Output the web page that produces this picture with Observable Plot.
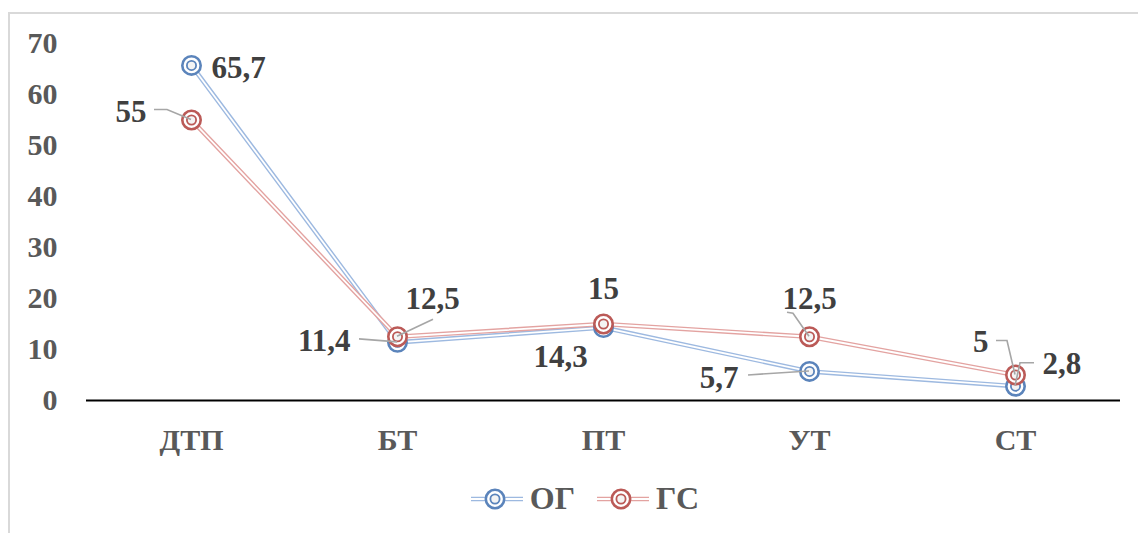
<!DOCTYPE html>
<html>
<head>
<meta charset="utf-8">
<script src="https://cdn.jsdelivr.net/npm/d3@7"></script>
<script src="https://cdn.jsdelivr.net/npm/@observablehq/plot@0.6"></script>
<style>
  html, body { margin: 0; padding: 0; background: #fff; overflow: hidden; width: 1138px; height: 533px; }
  #frame { position: absolute; left: 8px; top: 12px; width: 1200px; height: 600px; border: 2px solid #d9d9d9; }
  #chart { position: absolute; left: 0; top: 0; }
  #legend { position: absolute; left: 16px; top: 480px; width: 1138px; display: flex; justify-content: center; gap: 22px;
            font-family: "Liberation Serif", "Times New Roman", serif; font-weight: bold; font-size: 32px; color: #595959; }
  .item { display: flex; align-items: center; gap: 7px; }
</style>
</head>
<body>
<div id="frame"></div>
<div id="chart"></div>
<div id="legend"></div>
<script>
// Categories and series values
const categories = ["ДТП", "БТ", "ПТ", "УТ", "СТ"];
const seriesNames = ["ОГ", "ГС"];
const ogValues = [65.7, 11.4, 14.3, 5.7, 2.8];
const gsValues = [55, 12.5, 15, 12.5, 5];
const yTicks = [0, 10, 20, 30, 40, 50, 60, 70];

// Styling per series: light double-line colour and darker marker colour
const lineColors = {"ОГ": "#9db9e0", "ГС": "#e3a3a1"};
const markColors = {"ОГ": "#5b84bb", "ГС": "#bb5a57"};

// Label placement (pixel offsets from each point) and optional leader polylines
const labelLayout = {
  "ОГ": [
    {dx: 20, dy: 3, anchor: "start"},
    {dx: -47, dy: -1, anchor: "end", leader: [[-38, -3], [0, 0]]},
    {dx: -43, dy: 30, anchor: "middle"},
    {dx: -71, dy: 7, anchor: "end", leader: [[-61, 4], [0, 0]]},
    {dx: 27, dy: -22, anchor: "start", leader: [[19, -23], [5, -23], [0, 0]]}
  ],
  "ГС": [
    {dx: -45, dy: -8, anchor: "end", leader: [[-37, -10], [-24, -10], [0, 0]]},
    {dx: 8, dy: -38, anchor: "start", leader: [[36, -17], [0, 0]]},
    {dx: 0, dy: -35, anchor: "middle"},
    {dx: 0, dy: -38, anchor: "middle", leader: [[-22, -24], [-16, -23], [0, 0]]},
    {dx: -27, dy: -33, anchor: "end", leader: [[-19, -34], [-8, -34], [0, 0]]}
  ]
};

const valuesBySeries = {"ОГ": ogValues, "ГС": gsValues};
const rows = seriesNames.flatMap(s => categories.map((c, i) => ({
  series: s, cat: c, value: valuesBySeries[s][i], ...labelLayout[s][i]
})));

const fmt = v => String(v).replace(".", ",");
const font = "'Liberation Serif', 'Times New Roman', serif";

// Double line: a wide coloured stroke with a thin white stroke down its middle
function doubleLine(s) {
  const data = rows.filter(d => d.series === s);
  return [
    Plot.line(data, {x: "cat", y: "value", stroke: lineColors[s], strokeWidth: 4.6}),
    Plot.line(data, {x: "cat", y: "value", stroke: "white", strokeWidth: 1.8})
  ];
}

// Concentric-ring markers
function markers(s) {
  const data = rows.filter(d => d.series === s);
  return [
    Plot.dot(data, {x: "cat", y: "value", r: 9.2, stroke: markColors[s], strokeWidth: 2.6, fill: "white"}),
    Plot.dot(data, {x: "cat", y: "value", r: 4.6, stroke: markColors[s], strokeWidth: 1.8, fill: "#f4f4f4"})
  ];
}

// Leader lines from labels to their points
function leaders(index, scales) {
  const g = d3.create("svg:g").attr("fill", "none").attr("stroke", "#a6a6a6").attr("stroke-width", 1.6);
  for (const d of rows) {
    if (!d.leader) continue;
    const x0 = scales.x(d.cat), y0 = scales.y(d.value);
    g.append("polyline").attr("points", d.leader.map(([dx, dy]) => `${x0 + dx},${y0 + dy}`).join(" "));
  }
  return g.node();
}

const labelMarks = rows.map(d => Plot.text([d], {
  x: "cat", y: "value", text: d => fmt(d.value),
  dx: d.dx, dy: d.dy, textAnchor: d.anchor,
  fontSize: 31, fontWeight: "bold", fontFamily: font, fill: "#404040"
}));

const chart = Plot.plot({
  width: 1138,
  height: 470,
  marginLeft: 86,
  marginRight: 18,
  marginTop: 43,
  marginBottom: 70,
  style: {fontFamily: font, background: "transparent", overflow: "visible"},
  x: {type: "point", domain: categories, padding: 0.5, label: null},
  y: {domain: [0, 70], label: null},
  marks: [
    Plot.axisY({ticks: yTicks, tickSize: 0, tickPadding: 29, label: null, fontSize: 30, fontWeight: "bold", fill: "#595959", fontFamily: font}),
    Plot.axisX({tickSize: 0, tickPadding: 28, label: null, fontSize: 30, fontWeight: "bold", fill: "#595959", fontFamily: font}),
    Plot.ruleY([0], {stroke: "black", strokeWidth: 2}),
    ...doubleLine("ОГ"),
    ...doubleLine("ГС"),
    ...markers("ОГ"),
    ...markers("ГС"),
    leaders,
    ...labelMarks
  ]
});
document.getElementById("chart").append(chart);

// Legend below the plot
const legend = document.getElementById("legend");
for (const s of seriesNames) {
  const item = document.createElement("div");
  item.className = "item";
  item.innerHTML = `<svg width="52" height="24">
      <line x1="0" x2="52" y1="12" y2="12" stroke="${lineColors[s]}" stroke-width="4.6"/>
      <line x1="0" x2="52" y1="12" y2="12" stroke="white" stroke-width="1.8"/>
      <circle cx="24" cy="12" r="9.2" stroke="${markColors[s]}" stroke-width="2.6" fill="white"/>
      <circle cx="24" cy="12" r="4.6" stroke="${markColors[s]}" stroke-width="1.8" fill="#f4f4f4"/>
    </svg><span>${s}</span>`;
  legend.append(item);
}
</script>
</body>
</html>
